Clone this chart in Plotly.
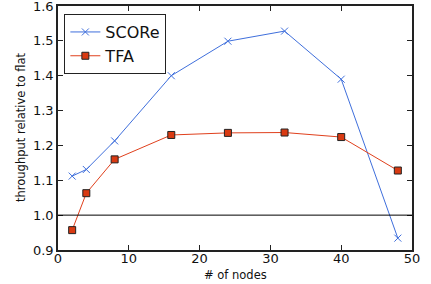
import plotly.graph_objects as go

nodes = [2, 4, 8, 16, 24, 32, 40, 48]
score = [1.112, 1.131, 1.213, 1.400, 1.499, 1.528, 1.390, 0.934]
tfa = [0.957, 1.063, 1.160, 1.230, 1.236, 1.237, 1.224, 1.128]

blue = "#3f6fdc"
red = "#e0401c"

fig = go.Figure()
fig.add_trace(go.Scatter(x=nodes, y=score, name="SCORe", mode="lines+markers",
                         line=dict(color=blue, width=1),
                         marker=dict(symbol="x-thin", size=7, line=dict(color=blue, width=1))))
fig.add_trace(go.Scatter(x=nodes, y=tfa, name="TFA", mode="lines+markers",
                         line=dict(color=red, width=1),
                         marker=dict(symbol="square", size=7, color="#d93a12",
                                     line=dict(color="#222", width=1))))
fig.add_hline(y=1.0, line=dict(color="black", width=1))

axis_common = dict(showgrid=False, zeroline=False, ticks="inside", mirror="allticks",
                   showline=True, linecolor="#222", linewidth=1.5, ticklen=5,
                   tickcolor="#222", automargin=False, ticklabeloverflow="allow",
                   tickfont=dict(family="DejaVu Sans", size=13, color="#111"))
fig.update_xaxes(range=[0, 50], dtick=10, ticklabelstandoff=-4, **axis_common)
fig.update_yaxes(range=[0.9, 1.6], dtick=0.1, tickformat=".1f", **axis_common)

fig.add_annotation(text="# of nodes", xref="paper", yref="paper", x=0.5, y=-0.104,
                   xanchor="center", yanchor="middle", showarrow=False,
                   font=dict(family="DejaVu Sans", size=11.5, color="#111"))
fig.add_annotation(text="throughput relative to flat", xref="paper", yref="paper",
                   x=-0.1045, y=0.5, xanchor="center", yanchor="middle", textangle=-90,
                   showarrow=False, font=dict(family="DejaVu Sans", size=11.5, color="#111"))

fig.update_layout(width=431, height=284, margin=dict(l=58, r=19, t=6, b=34),
                  plot_bgcolor="white", paper_bgcolor="white",
                  font=dict(family="DejaVu Sans"),
                  showlegend=True,
                  legend=dict(x=0.018, y=0.967, xanchor="left", yanchor="top",
                              bgcolor="white", bordercolor="#222", borderwidth=1,
                              font=dict(family="DejaVu Sans", size=16, color="#111"),
                              itemwidth=30, tracegroupgap=0))
fig.write_html("out.html", config={"displayModeBar": False},
               post_script="document.body.style.margin='0';")
